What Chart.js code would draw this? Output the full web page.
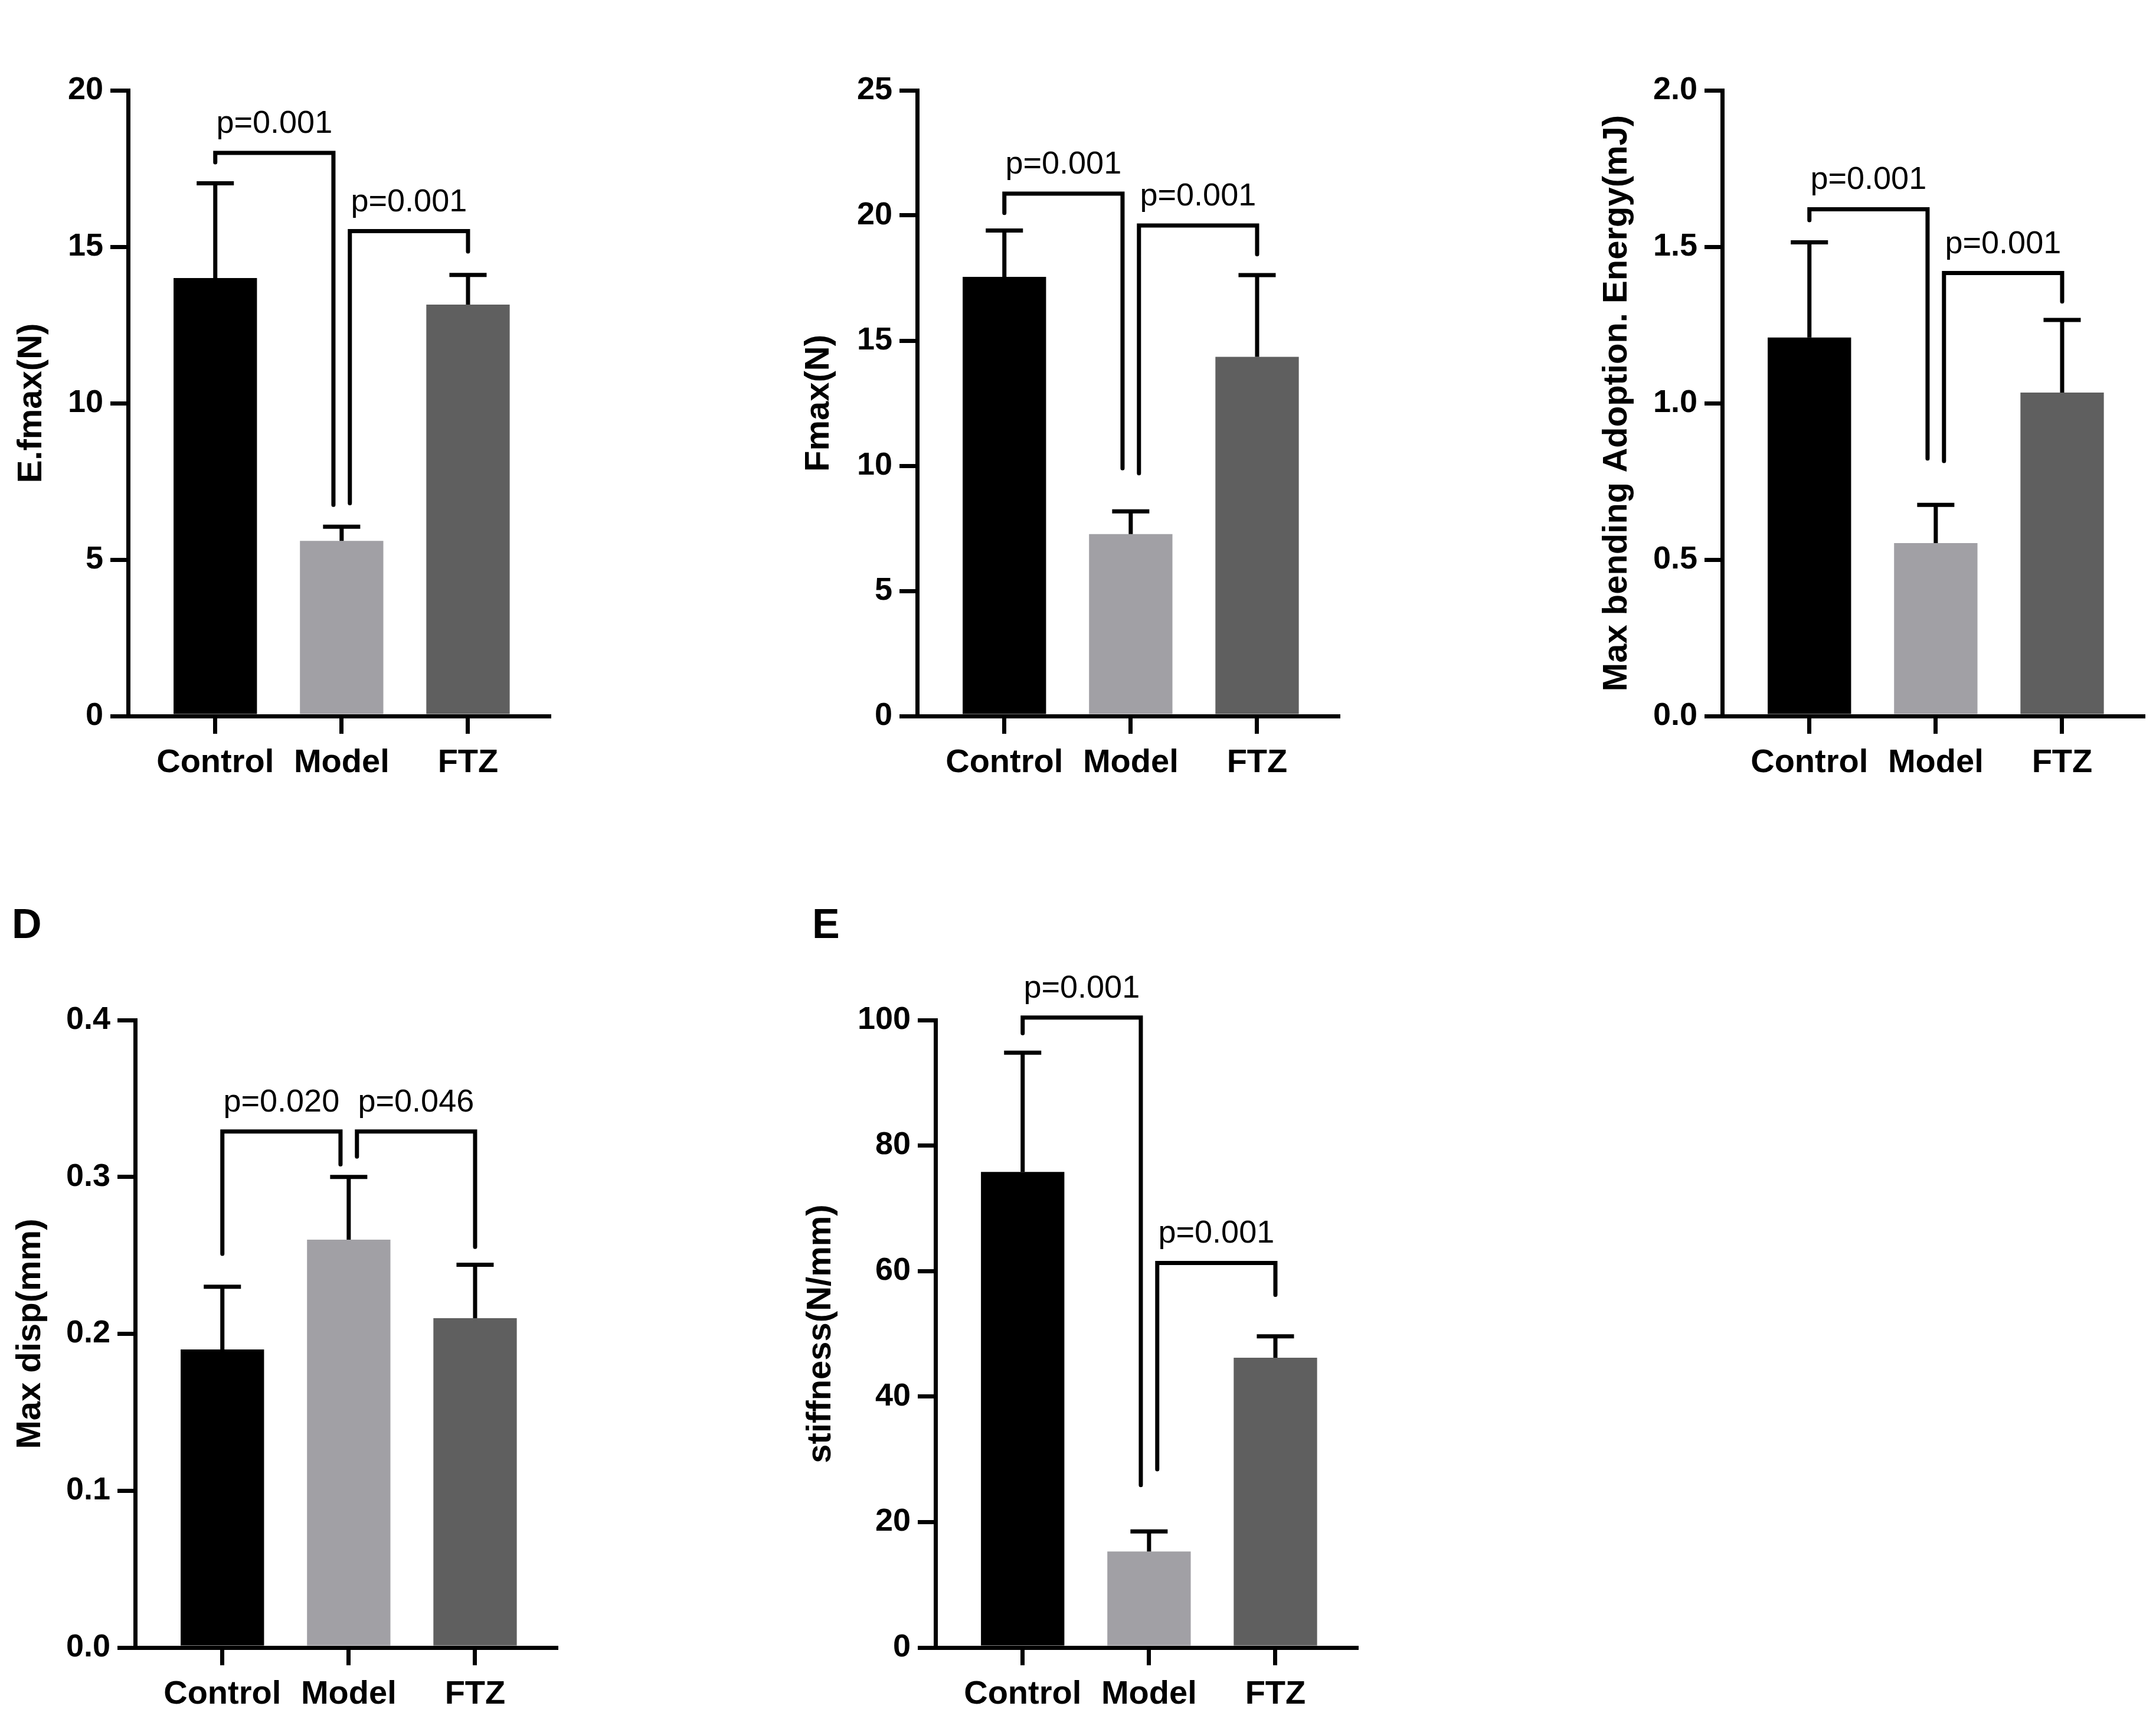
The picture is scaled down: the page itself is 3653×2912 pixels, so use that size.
<!DOCTYPE html>
<html>
<head>
<meta charset="utf-8">
<script src="https://cdn.jsdelivr.net/npm/chart.js@4.4.0/dist/chart.umd.min.js"></script>
<style>
  html, body { margin: 0; padding: 0; background: #fff; }
  body { width: 3653px; height: 2912px; position: relative; overflow: hidden; font-family: "Liberation Sans", Arial, sans-serif; }
  canvas { position: absolute; }
  .tag { position: absolute; font-weight: bold; font-size: 70px; line-height: 70px; color: #000; }
</style>
</head>
<body>
<div class="tag" style="left:20px;top:1530px">D</div>
<div class="tag" style="left:1376px;top:1530px">E</div>
<canvas id="chartA"></canvas>
<canvas id="chartB"></canvas>
<canvas id="chartC"></canvas>
<canvas id="chartD"></canvas>
<canvas id="chartE"></canvas>
<script>
const groups = ['Control', 'Model', 'FTZ'];
const barColors = ['#000000', '#a1a0a5', '#5f5f5f'];

// A - E.fmax
const efmaxMean = [14.0, 5.6, 13.15];
const efmaxUpper = [17.03, 6.05, 14.1];
const efmaxTicks = [0, 5, 10, 15, 20];
const efmaxBrackets = [
  { from: 0, to: 1, y: 18.0, leftEnd: 17.7, rightEnd: 6.75, text: 'p=0.001' },
  { from: 1, to: 2, y: 15.5, leftEnd: 6.8, rightEnd: 14.85, text: 'p=0.001' }
];

// B - Fmax
const fmaxMean = [17.55, 7.27, 14.35];
const fmaxUpper = [19.4, 8.18, 17.62];
const fmaxTicks = [0, 5, 10, 15, 20, 25];
const fmaxBrackets = [
  { from: 0, to: 1, y: 20.87, leftEnd: 20.1, rightEnd: 9.9, text: 'p=0.001' },
  { from: 1, to: 2, y: 19.6, leftEnd: 9.7, rightEnd: 18.45, text: 'p=0.001' }
];

// C - max bending energy
const energyMean = [1.21, 0.553, 1.034];
const energyUpper = [1.514, 0.675, 1.266];
const energyTicks = [0, 0.5, 1.0, 1.5, 2.0];
const energyBrackets = [
  { from: 0, to: 1, y: 1.62, leftEnd: 1.585, rightEnd: 0.823, text: 'p=0.001' },
  { from: 1, to: 2, y: 1.416, leftEnd: 0.815, rightEnd: 1.325, text: 'p=0.001' }
];

// D - max displacement
const dispMean = [0.19, 0.26, 0.21];
const dispUpper = [0.23, 0.30, 0.244];
const dispTicks = [0, 0.1, 0.2, 0.3, 0.4];
const dispBrackets = [
  { from: 0, to: 1, y: 0.329, leftEnd: 0.251, rightEnd: 0.308, text: 'p=0.020' },
  { from: 1, to: 2, y: 0.329, leftEnd: 0.313, rightEnd: 0.2554, text: 'p=0.046' }
];

// E - stiffness
const stiffMean = [75.8, 15.3, 46.2];
const stiffUpper = [94.8, 18.5, 49.6];
const stiffTicks = [0, 20, 40, 60, 80, 100];
const stiffBrackets = [
  { from: 0, to: 1, y: 100.4, leftEnd: 97.9, rightEnd: 25.9, text: 'p=0.001' },
  { from: 1, to: 2, y: 61.3, leftEnd: 28.4, rightEnd: 56.2, text: 'p=0.001' }
];

const FONT = '"Liberation Sans", Arial, sans-serif';
const AXIS_W = 240;   // width of y axis box
const X_H = 120;      // height of x axis box
const PLOT_W = 713;
const LINE = 7;

function makePanel(cfg) {
  const canvas = document.getElementById(cfg.id);
  const w = AXIS_W + PLOT_W + 12;
  const h = cfg.padTop + cfg.plotH + X_H;
  canvas.width = w;
  canvas.height = h;
  canvas.style.left = (cfg.axisX - AXIS_W) + 'px';
  canvas.style.top = cfg.top + 'px';
  canvas.style.width = w + 'px';
  canvas.style.height = h + 'px';

  // upper error bars with caps
  const errorBars = {
    id: 'errorBars',
    afterDatasetsDraw(chart) {
      const { ctx } = chart;
      const y = chart.scales.y;
      const meta = chart.getDatasetMeta(0);
      ctx.save();
      ctx.strokeStyle = '#000';
      ctx.lineWidth = LINE;
      meta.data.forEach((bar, i) => {
        const yTop = y.getPixelForValue(cfg.upper[i]);
        const half = bar.width * 0.223;
        ctx.beginPath();
        ctx.moveTo(bar.x, bar.y);
        ctx.lineTo(bar.x, yTop);
        ctx.moveTo(bar.x - half, yTop);
        ctx.lineTo(bar.x + half, yTop);
        ctx.stroke();
      });
      ctx.restore();
    }
  };

  // significance brackets
  const brackets = {
    id: 'brackets',
    afterDatasetsDraw(chart) {
      const { ctx } = chart;
      const { x, y } = chart.scales;
      const shift = 0.065;
      ctx.save();
      ctx.strokeStyle = '#000';
      ctx.fillStyle = '#000';
      ctx.lineWidth = LINE;
      ctx.lineJoin = 'miter';
      ctx.lineCap = 'round';
      ctx.font = '54px ' + FONT;
      ctx.textAlign = 'center';
      ctx.textBaseline = 'alphabetic';
      cfg.brackets.forEach(b => {
        const x1 = x.getPixelForValue(b.from + (b.from === 1 ? shift : 0));
        const x2 = x.getPixelForValue(b.to - (b.to === 1 ? shift : 0));
        const yb = y.getPixelForValue(b.y);
        ctx.beginPath();
        ctx.moveTo(x1, y.getPixelForValue(b.leftEnd));
        ctx.lineTo(x1, yb);
        ctx.lineTo(x2, yb);
        ctx.lineTo(x2, y.getPixelForValue(b.rightEnd));
        ctx.stroke();
        ctx.fillText(b.text, (x1 + x2) / 2, yb - 34);
      });
      ctx.restore();
    }
  };

  const axisGrid = { display: true, drawOnChartArea: false, drawTicks: true, tickLength: 30, lineWidth: LINE, color: '#000', offset: false };
  const axisBorder = { display: true, width: LINE, color: '#000' };

  return new Chart(canvas, {
    type: 'bar',
    data: {
      datasets: [{
        data: cfg.means.map((v, i) => ({ x: i, y: v })),
        backgroundColor: barColors,
        borderWidth: 0,
        categoryPercentage: 1,
        barPercentage: 0.66
      }]
    },
    options: {
      responsive: false,
      animation: false,
      devicePixelRatio: 1,
      layout: { padding: { top: cfg.padTop, left: 0, right: 12, bottom: 0 } },
      plugins: { legend: { display: false }, tooltip: { enabled: false } },
      scales: {
        x: {
          type: 'linear',
          min: -0.69,
          max: 2.64,
          offset: false,
          afterBuildTicks: s => { s.ticks = groups.map((g, i) => ({ value: i })); },
          afterFit: s => { s.height = X_H; },
          grid: axisGrid,
          border: axisBorder,
          ticks: {
            callback: v => groups[v],
            font: { family: FONT, size: 56, weight: 'bold' },
            color: '#000',
            padding: 16,
            maxRotation: 0,
            autoSkip: false
          }
        },
        y: {
          min: cfg.ticks[0],
          max: cfg.ticks[cfg.ticks.length - 1],
          afterBuildTicks: s => { s.ticks = cfg.ticks.map(v => ({ value: v })); },
          afterFit: s => { s.width = AXIS_W; },
          grid: axisGrid,
          border: axisBorder,
          ticks: {
            callback: v => v.toFixed(cfg.decimals),
            font: { family: FONT, size: 54, weight: 'bold' },
            color: '#000',
            padding: 12
          },
          title: {
            display: true,
            text: cfg.title,
            color: '#000',
            font: { family: FONT, size: 58, weight: 'bold' },
            padding: { top: AXIS_W - cfg.titleGap - 35, bottom: 0 }
          }
        }
      }
    },
    plugins: [errorBars, brackets]
  });
}

makePanel({ id: 'chartA', axisX: 217, top: 0, padTop: 153, plotH: 1060, titleGap: 163,
  title: 'E.fmax(N)', means: efmaxMean, upper: efmaxUpper, ticks: efmaxTicks, decimals: 0, brackets: efmaxBrackets });
makePanel({ id: 'chartB', axisX: 1554, top: 0, padTop: 153, plotH: 1060, titleGap: 166,
  title: 'Fmax(N)', means: fmaxMean, upper: fmaxUpper, ticks: fmaxTicks, decimals: 0, brackets: fmaxBrackets });
makePanel({ id: 'chartC', axisX: 2918, top: 0, padTop: 153, plotH: 1060, titleGap: 178,
  title: 'Max bending Adoption. Energy(mJ)', means: energyMean, upper: energyUpper, ticks: energyTicks, decimals: 1, brackets: energyBrackets });
makePanel({ id: 'chartD', axisX: 229, top: 1450, padTop: 278, plotH: 1063, titleGap: 177,
  title: 'Max disp(mm)', means: dispMean, upper: dispUpper, ticks: dispTicks, decimals: 1, brackets: dispBrackets });
makePanel({ id: 'chartE', axisX: 1585, top: 1450, padTop: 278, plotH: 1063, titleGap: 194,
  title: 'stiffness(N/mm)', means: stiffMean, upper: stiffUpper, ticks: stiffTicks, decimals: 0, brackets: stiffBrackets });
</script>
</body>
</html>
